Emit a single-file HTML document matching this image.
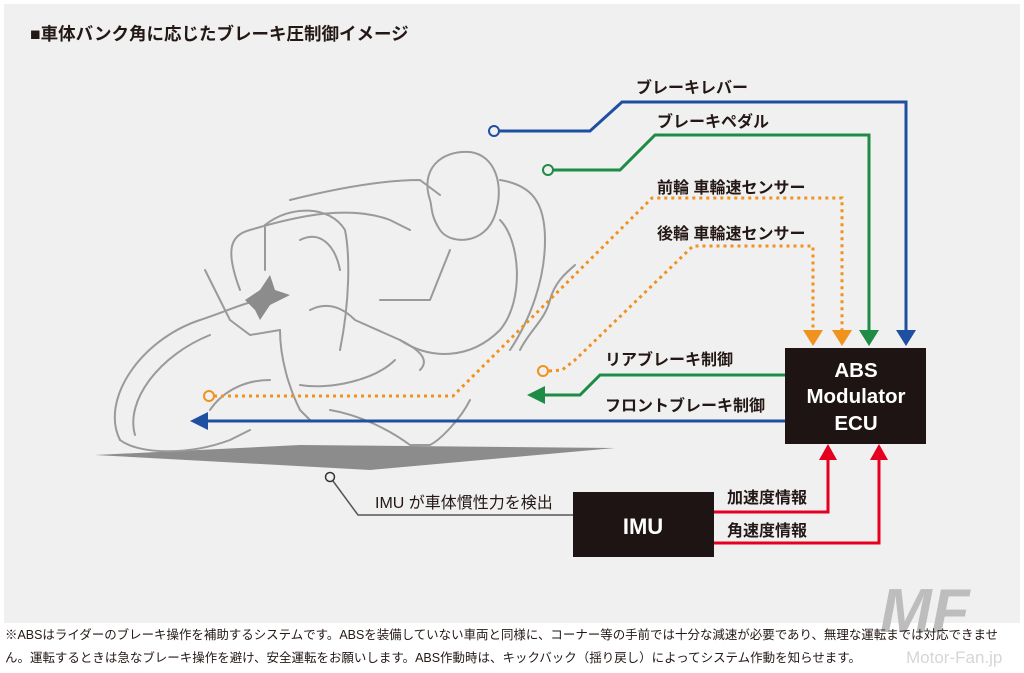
<!DOCTYPE html>
<html><head><meta charset="utf-8"><style>
html,body{margin:0;padding:0;background:#fff;width:1024px;height:673px;overflow:hidden}
svg{display:block}
text{font-family:"Liberation Sans","Noto Sans CJK JP",sans-serif}
</style></head><body>
<svg width="1024" height="673" viewBox="0 0 1024 673" xmlns="http://www.w3.org/2000/svg">
<rect x="4" y="4" width="1016" height="619" fill="#f0f0f0"/>
<text x="30" y="40" font-size="17.5" font-weight="bold" fill="#231815">■車体バンク角に応じたブレーキ圧制御イメージ</text>

<!-- shadow -->
<polygon points="95,455 300,445 615,448 370,470" fill="#8c8c8c"/>
<!-- motorcycle sketch -->
<g fill="none" stroke="#9a9a9a" stroke-width="2" stroke-linejoin="round" stroke-linecap="round">
<path d="M120,440 C100,400 140,340 200,320 C230,310 250,300 265,300"/>
<path d="M135,435 C125,400 160,355 210,335"/>
<path d="M120,440 C140,455 190,455 230,440 L250,430"/>
<path d="M240,290 C225,250 230,235 250,230 C300,215 350,205 390,220 L410,230"/>
<path d="M205,270 L230,320 L250,335 L280,330"/>
<path d="M265,225 C290,205 330,205 345,230 C350,255 350,300 340,350"/>
<path d="M265,225 L265,270"/>
<path d="M300,240 C320,230 335,245 340,270"/>
<path d="M290,200 C330,190 380,180 420,180 L440,195"/>
<path d="M430,200 C420,170 440,150 470,152 C495,155 505,185 495,215 C485,245 450,245 440,230 C430,215 432,205 430,200"/>
<path d="M500,180 C530,185 545,200 545,240 C545,280 530,320 510,350"/>
<path d="M500,220 C520,240 525,300 500,330 C470,360 430,360 400,340"/>
<path d="M310,310 C330,300 345,310 355,320 L400,340 C420,350 430,360 420,370"/>
<path d="M280,330 C280,360 290,390 300,410 L310,420"/>
<path d="M270,380 C240,380 220,395 210,410"/>
<path d="M330,410 C360,415 390,430 410,445 L430,445 C440,440 460,420 470,400"/>
<path d="M520,350 C530,330 545,320 550,300 C555,280 570,270 575,265"/>
<path d="M450,250 L430,300 L380,300"/>
<path d="M395,360 C375,380 330,390 300,385"/>
</g>
<polygon points="245,300 260,290 270,275 275,290 290,295 270,305 260,320 255,310" fill="#8c8c8c"/>

<!-- blue lever -->
<g fill="none" stroke="#1f4fa0" stroke-width="3">
<polyline points="499,131 590,131 622,102 906,102 906,332"/>
<polyline points="785,421 205,421"/>
</g>
<circle cx="494" cy="131" r="5" fill="#f0f0f0" stroke="#1f4fa0" stroke-width="2"/>
<polygon points="896,330 916,330 906,346" fill="#1f4fa0"/>
<polygon points="190,421 208,412 208,430" fill="#1f4fa0"/>

<!-- green pedal -->
<g fill="none" stroke="#1e8c45" stroke-width="3">
<polyline points="553,170 620,170 655,135 869,135 869,332"/>
<polyline points="785,375 600,375 580,395 540,395"/>
</g>
<circle cx="548" cy="170" r="5" fill="#f0f0f0" stroke="#1e8c45" stroke-width="2"/>
<polygon points="859,330 879,330 869,346" fill="#1e8c45"/>
<polygon points="527,395 545,386 545,404" fill="#1e8c45"/>

<!-- orange dotted -->
<g fill="none" stroke="#f0921e" stroke-width="3" stroke-dasharray="3,4">
<polyline points="214,396 453,396 652,198 842,198 842,332"/>
<polyline points="549,371 562,370 575,360 693,246 813,246 813,332"/>
</g>
<circle cx="209" cy="396" r="5" fill="#f0f0f0" stroke="#f0921e" stroke-width="2"/>
<circle cx="543" cy="371" r="5" fill="#f0f0f0" stroke="#f0921e" stroke-width="2"/>
<polygon points="803,330 823,330 813,346" fill="#f0921e"/>
<polygon points="832,330 852,330 842,346" fill="#f0921e"/>

<!-- labels -->
<g font-size="16" font-weight="bold" fill="#231815">
<text x="636" y="93">ブレーキレバー</text>
<text x="657" y="127">ブレーキペダル</text>
<text x="657" y="193">前輪 車輪速センサー</text>
<text x="657" y="239">後輪 車輪速センサー</text>
<text x="605" y="365">リアブレーキ制御</text>
<text x="605" y="411">フロントブレーキ制御</text>
<text x="727" y="503">加速度情報</text>
<text x="727" y="536">角速度情報</text>
</g>

<!-- ECU -->
<rect x="785" y="348" width="141" height="96" fill="#1e1413"/>
<g font-size="20.5" font-weight="bold" fill="#fff" text-anchor="middle">
<text x="856" y="377">ABS</text>
<text x="856" y="403">Modulator</text>
<text x="856" y="430">ECU</text>
</g>

<!-- IMU -->
<rect x="573" y="492" width="141" height="65" fill="#1e1413"/>
<text x="643" y="534" font-size="22" font-weight="bold" fill="#fff" text-anchor="middle">IMU</text>
<g fill="none" stroke="#e60020" stroke-width="3">
<polyline points="714,512 828,512 828,458"/>
<polyline points="714,543 879,543 879,458"/>
</g>
<polygon points="819,460 837,460 828,444" fill="#e60020"/>
<polygon points="870,460 888,460 879,444" fill="#e60020"/>

<polyline points="333,481 358,515 573,515" fill="none" stroke="#555" stroke-width="1.5"/>
<circle cx="330" cy="477" r="4.5" fill="#f0f0f0" stroke="#333" stroke-width="1.5"/>
<text x="375" y="508" font-size="16" fill="#231815">IMU が車体慣性力を検出</text>

<!-- watermark -->
<text x="880" y="632" font-size="62" font-weight="bold" font-style="italic" fill="#bdbdbd">MF</text>
<text x="906" y="663" font-size="17" fill="#d6d6d6">Motor-Fan.jp</text>

<g font-size="12.5" fill="#231815">
<text x="5" y="639" textLength="993" lengthAdjust="spacingAndGlyphs">※ABSはライダーのブレーキ操作を補助するシステムです。ABSを装備していない車両と同様に、コーナー等の手前では十分な減速が必要であり、無理な運転までは対応できませ</text>
<text x="5" y="662" textLength="856" lengthAdjust="spacingAndGlyphs">ん。運転するときは急なブレーキ操作を避け、安全運転をお願いします。ABS作動時は、キックバック（揺り戻し）によってシステム作動を知らせます。</text>
</g>
</svg>
</body></html>
